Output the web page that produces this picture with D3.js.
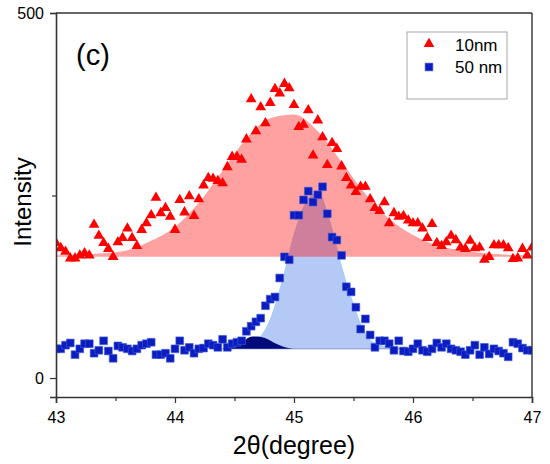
<!DOCTYPE html>
<html>
<head>
<meta charset="utf-8">
<script src="https://cdn.jsdelivr.net/npm/d3@7"></script>
<style>
  html, body { margin: 0; padding: 0; background: #fff; }
  svg { display: block; font-family: "Liberation Sans", Arial, sans-serif; }
</style>
</head>
<body>
<svg id="chart" width="550" height="464"></svg>
<script>
// ---- data ----
const thetaStart = 43;      // 2θ of first measured point
const thetaStep = 0.04;     // measurement step
const intensity10nm = [
  185,178,173,164,164,168,171,168,210,195,
  185,177,166,186,192,205,192,181,203,212,
  223,247,226,233,221,203,244,227,249,222,
  245,264,274,273,270,267,289,303,303,299,
  327,382,338,371,349,377,396,390,403,397,
  374,344,347,367,305,353,330,292,322,314,
  290,274,264,255,262,262,245,233,229,241,
  212,226,221,222,216,212,212,205,192,211,
  185,181,186,195,189,179,177,188,178,179,
  162,166,182,182,182,178,163,164,177,168,
  179
];
const intensity50nm = [
  40,40,45,48,32,40,47,47,34,38,
  51,37,27,44,42,40,37,40,45,47,
  49,32,32,34,27,40,51,38,42,34,
  40,41,47,45,42,53,42,47,49,51,
  64,71,77,82,99,108,111,137,166,162,
  223,223,244,256,241,251,262,225,193,189,
  168,125,118,97,67,81,59,42,51,51,
  47,38,51,37,36,40,47,38,36,40,
  48,42,47,40,38,36,32,38,45,32,
  42,33,40,37,34,29,49,47,41,38,
  38
];
// fitted peak envelopes (read from the shaded areas)
const fit10nmTheta = [43,43.2,43.4,43.6,43.8,44,44.2,44.4,44.6,44.8,45,45.2,45.4,45.6,45.8,46,46.2,46.4,46.6,46.8,47];
const fit10nmI     = [168,169,171,175,188,207,240,284,328,356,361,338,296,252,218,196,182,175,171,169,168];
const fit10nmBase  = 166;
const fit50nmTheta = [44.4,44.5,44.6,44.7,44.8,44.9,45,45.1,45.2,45.3,45.4,45.5,45.6,45.7,45.8,45.9];
const fit50nmI     = [40,41,44,53,80,132,196,240,254,215,152,100,60,46,42,40];
const fit50nmBase  = 40;
const fitSmallTheta = [44.4,44.45,44.55,44.65,44.7,44.75,44.85,44.95,45.0];
const fitSmallI     = [40,41,48,57,57,55,47,41,40];
const xTicks = [43,44,45,46,47];
const xMinorTicks = [43.5,44.5,45.5,46.5];
const yTicks = [0,500];
const yMinorTicks = [250];
const legendLabels = ["10nm","50 nm"];

// ---- layout ----
const svg = d3.select("#chart");
const L = 56, R = 532, T = 13, B = 397;
const x = d3.scaleLinear().domain([43,47]).range([L,R]);
const y = d3.scaleLinear().domain([-26,500]).range([B,T]);

svg.append("defs").append("clipPath").attr("id","clip")
  .append("rect").attr("x",L).attr("y",T).attr("width",R-L).attr("height",B-T);
const plot = svg.append("g").attr("clip-path","url(#clip)");

function fitArea(thetas, vals, base) {
  const pts = thetas.map((t,i)=>[t, vals[i]]);
  return d3.area().x(d=>x(d[0])).y0(y(base)).y1(d=>y(d[1])).curve(d3.curveMonotoneX)(pts);
}
function fitLine(thetas, vals) {
  const pts = thetas.map((t,i)=>[t, vals[i]]);
  return d3.line().x(d=>x(d[0])).y(d=>y(d[1])).curve(d3.curveMonotoneX)(pts);
}

// light blue 50 nm fit
plot.append("path").attr("d", fitArea(fit50nmTheta, fit50nmI, fit50nmBase))
  .attr("fill","#b4c9f6");
plot.append("path").attr("d", fitLine(fit50nmTheta, fit50nmI))
  .attr("fill","none").attr("stroke","#9fd0f5").attr("stroke-width",1);
// baseline line of blue fit
plot.append("line").attr("x1",x(44.4)).attr("x2",x(45.9))
  .attr("y1",y(fit50nmBase)).attr("y2",y(fit50nmBase))
  .attr("stroke","#6f86c8").attr("stroke-width",0.8);
// red 10 nm fit (translucent)
plot.append("path").attr("d", fitArea(fit10nmTheta, fit10nmI, fit10nmBase))
  .attr("fill","rgba(255,0,0,0.37)");
// small navy component
plot.append("path").attr("d", fitArea(fitSmallTheta, fitSmallI, fit50nmBase))
  .attr("fill","#000a78");

// markers
const tri = d3.symbol().type(d3.symbolTriangle).size(50)();
const sq = d3.symbol().type(d3.symbolSquare).size(60)();
plot.append("g").selectAll("path").data(intensity10nm).join("path")
  .attr("d", tri)
  .attr("transform",(d,i)=>`translate(${x(thetaStart+i*thetaStep)},${y(d)})`)
  .attr("fill","#ff0000");
plot.append("g").selectAll("path").data(intensity50nm).join("path")
  .attr("d", sq)
  .attr("transform",(d,i)=>`translate(${x(thetaStart+i*thetaStep)},${y(d)})`)
  .attr("fill","#0c1cbf").attr("stroke","#3b5be0").attr("stroke-width",0.6);

// frame
const axisColor = "#333";
svg.append("line").attr("x1",L).attr("x2",R).attr("y1",T).attr("y2",T).attr("stroke",axisColor).attr("stroke-width",1.4);
svg.append("line").attr("x1",R).attr("x2",R).attr("y1",T).attr("y2",B).attr("stroke",axisColor).attr("stroke-width",1.4);

// x axis
const xAxis = svg.append("g").attr("transform",`translate(0,${B})`)
  .call(d3.axisBottom(x).tickValues(xTicks).tickSize(6).tickPadding(6).tickFormat(d3.format("d")));
svg.append("g").attr("transform",`translate(0,${B})`)
  .call(d3.axisBottom(x).tickValues(xMinorTicks).tickSize(4).tickFormat(""))
  .select(".domain").remove();
// y axis
const yAxis = svg.append("g").attr("transform",`translate(${L},0)`)
  .call(d3.axisLeft(y).tickValues(yTicks).tickSize(6).tickPadding(6).tickFormat(d3.format("d")));
svg.append("g").attr("transform",`translate(${L},0)`)
  .call(d3.axisLeft(y).tickValues(yMinorTicks).tickSize(4).tickFormat(""))
  .select(".domain").remove();

svg.selectAll(".domain").attr("stroke",axisColor).attr("stroke-width",1.6);
svg.selectAll(".tick line").attr("stroke",axisColor).attr("stroke-width",1.2);
svg.selectAll(".tick text").attr("font-size",16).attr("fill","#000")
  .attr("font-family","'Liberation Sans', Arial, sans-serif");
xAxis.selectAll(".tick text").attr("dy","0.9em");

// axis titles
svg.append("text").attr("x",(L+R)/2).attr("y",454).attr("text-anchor","middle")
  .attr("font-size",25).attr("fill","#000").text("2θ(degree)");
svg.append("text").attr("transform",`translate(31,${202}) rotate(-90)`)
  .attr("text-anchor","middle").attr("font-size",24).attr("fill","#000").text("Intensity");

// panel label
svg.append("text").attr("x",76).attr("y",65).attr("font-size",29).attr("fill","#000").text("(c)");

// legend
const lg = svg.append("g");
lg.append("rect").attr("x",407).attr("y",32).attr("width",100).attr("height",67)
  .attr("fill","#fff").attr("stroke","#a6a6a6").attr("stroke-width",1);
lg.append("path").attr("d",tri).attr("transform","translate(429,44)").attr("fill","#ff0000");
lg.append("path").attr("d",sq).attr("transform","translate(429,67)")
  .attr("fill","#0c1cbf").attr("stroke","#3b5be0").attr("stroke-width",0.6);
lg.append("text").attr("x",455).attr("y",51).attr("font-size",17).attr("fill","#000").text(legendLabels[0]);
lg.append("text").attr("x",455).attr("y",73).attr("font-size",17).attr("fill","#000").text(legendLabels[1]);
</script>
</body>
</html>
